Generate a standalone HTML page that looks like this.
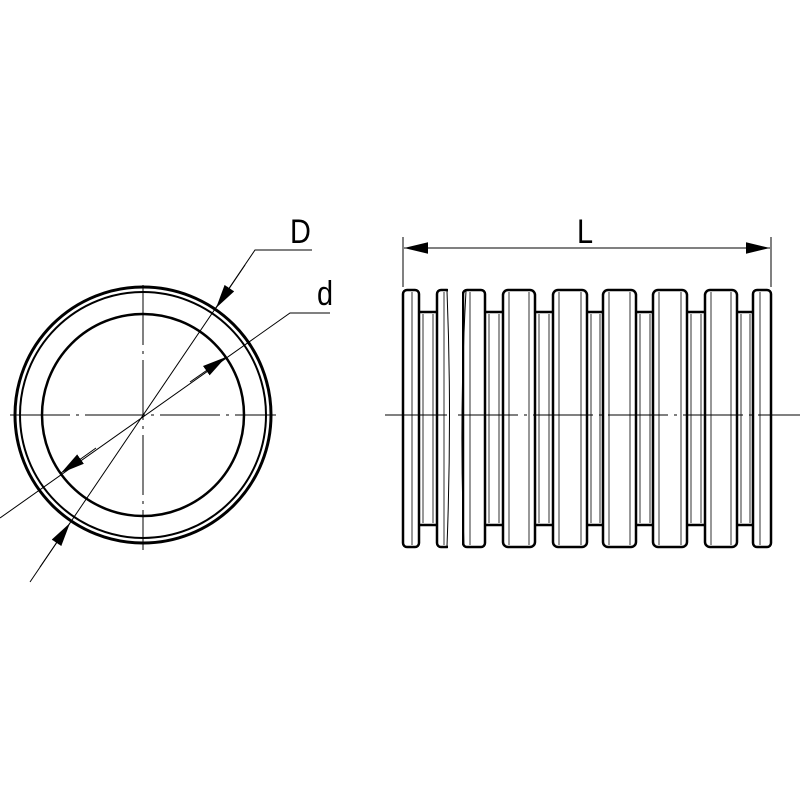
<!DOCTYPE html>
<html><head><style>html,body{margin:0;padding:0;background:#fff}</style></head>
<body>
<svg width="800" height="800" viewBox="0 0 800 800" xmlns="http://www.w3.org/2000/svg">
<defs>
<marker id="b" viewBox="0 0 10 10" refX="10" refY="5" markerWidth="24" markerHeight="24" markerUnits="userSpaceOnUse" orient="auto"><path d="M0,2.6 L10,5 L0,7.4 Z" fill="#000"/></marker>
</defs>
<rect width="800" height="800" fill="#fff"/>
<g fill="none" stroke="#000">
<circle cx="143" cy="415" r="128" stroke-width="3"/>
<circle cx="143" cy="415" r="123" stroke-width="2"/>
<circle cx="143" cy="415" r="101" stroke-width="2.5"/>
<line x1="10" y1="415" x2="276" y2="415" stroke-width="1" stroke-dasharray="60,6,3,6"/>
<line x1="143" y1="285" x2="143" y2="550" stroke-width="1" stroke-dasharray="60,6,3,6"/>
<polyline points="30,582 255,250 312,250" stroke-width="1"/>
<polyline points="0,518 290,313 330,313" stroke-width="1"/>
</g>
<line x1="245" y1="265" x2="216" y2="308" stroke="#000" stroke-width="1" marker-end="url(#b)"/>
<line x1="40" y1="567" x2="70" y2="523" stroke="#000" stroke-width="1" marker-end="url(#b)"/>
<line x1="190" y1="382" x2="226" y2="357" stroke="#000" stroke-width="1" marker-end="url(#b)"/>
<line x1="96" y1="448" x2="61" y2="473" stroke="#000" stroke-width="1" marker-end="url(#b)"/>
<g font-family="Liberation Sans, sans-serif" font-size="34">
<text transform="translate(290,243) scale(0.85,1)">D</text>
<text transform="translate(317,305) scale(0.85,1)">d</text>
<text transform="translate(577,243) scale(0.85,1)">L</text>
</g>
<g stroke="#000" stroke-width="1">
<line x1="403" y1="237" x2="403" y2="287"/>
<line x1="771" y1="237" x2="771" y2="287"/>
</g>
<line x1="425" y1="248" x2="404" y2="248" stroke="#000" stroke-width="1" marker-end="url(#b)"/>
<line x1="420" y1="248" x2="754" y2="248" stroke="#000" stroke-width="1"/>
<line x1="748" y1="248" x2="770" y2="248" stroke="#000" stroke-width="1" marker-end="url(#b)"/>
<g fill="#fff" stroke="#000" stroke-width="2.5">
<rect x="417" y="312" width="22" height="213"/>
<rect x="483" y="312" width="22" height="213"/>
<rect x="533" y="312" width="22" height="213"/>
<rect x="585" y="312" width="20" height="213"/>
<rect x="634" y="312" width="21" height="213"/>
<rect x="685" y="312" width="22" height="213"/>
<rect x="735" y="312" width="20" height="213"/>
<rect x="403" y="290" width="16" height="257" rx="4"/>
<rect x="437" y="290" width="14" height="257" rx="4"/>
<rect x="463" y="290" width="22" height="257" rx="4"/>
<rect x="503" y="290" width="32" height="257" rx="5"/>
<rect x="553" y="290" width="34" height="257" rx="5"/>
<rect x="603" y="290" width="33" height="257" rx="5"/>
<rect x="653" y="290" width="34" height="257" rx="5"/>
<rect x="705" y="290" width="32" height="257" rx="5"/>
<rect x="753" y="290" width="18" height="257" rx="4"/>
</g>
<rect x="448" y="285" width="14" height="268" fill="#fff"/>
<path d="M447,291 Q452,415 447,546" fill="none" stroke="#000" stroke-width="1"/>
<path d="M466,291 Q459,415 464,546" fill="none" stroke="#000" stroke-width="1"/>
<g stroke="#777" stroke-width="1.5">
<line x1="412" y1="292" x2="412" y2="545"/>
<line x1="423" y1="314" x2="423" y2="523"/>
<line x1="433" y1="314" x2="433" y2="523"/>
<line x1="444" y1="292" x2="444" y2="545"/>
<line x1="470" y1="292" x2="470" y2="545"/>
<line x1="489" y1="314" x2="489" y2="523"/>
<line x1="499" y1="314" x2="499" y2="523"/>
<line x1="509" y1="292" x2="509" y2="545"/>
<line x1="529" y1="292" x2="529" y2="545"/>
<line x1="539" y1="314" x2="539" y2="523"/>
<line x1="549" y1="314" x2="549" y2="523"/>
<line x1="559" y1="292" x2="559" y2="545"/>
<line x1="581" y1="292" x2="581" y2="545"/>
<line x1="591" y1="314" x2="591" y2="523"/>
<line x1="600" y1="314" x2="600" y2="523"/>
<line x1="609" y1="292" x2="609" y2="545"/>
<line x1="630" y1="292" x2="630" y2="545"/>
<line x1="640" y1="314" x2="640" y2="523"/>
<line x1="650" y1="314" x2="650" y2="523"/>
<line x1="659" y1="292" x2="659" y2="545"/>
<line x1="681" y1="292" x2="681" y2="545"/>
<line x1="691" y1="314" x2="691" y2="523"/>
<line x1="701" y1="314" x2="701" y2="523"/>
<line x1="711" y1="292" x2="711" y2="545"/>
<line x1="731" y1="292" x2="731" y2="545"/>
<line x1="741" y1="314" x2="741" y2="523"/>
<line x1="750" y1="314" x2="750" y2="523"/>
<line x1="760" y1="292" x2="760" y2="545"/>
</g>
<line x1="385" y1="415" x2="447" y2="415" stroke="#000" stroke-width="1"/>
<line x1="458" y1="415" x2="800" y2="415" stroke="#000" stroke-width="1" stroke-dasharray="60,6,3,6"/>
</svg>
</body></html>
